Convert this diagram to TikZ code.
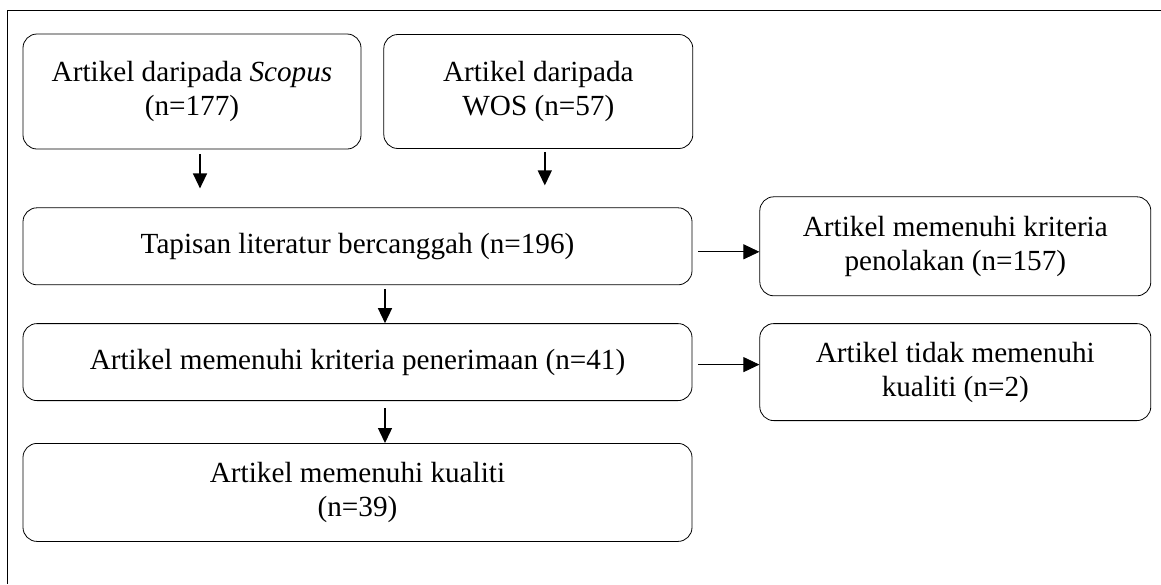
\documentclass[tikz,border=0pt]{standalone}
\usepackage{fontspec}
\setmainfont{Liberation Serif}
\usetikzlibrary{positioning,arrows.meta}
\begin{document}
\begin{tikzpicture}
[x=1pt,y=1pt,font=\fontsize{29.2}{34}\selectfont,
  box/.style={draw,line width=0.8pt,rounded corners=14pt,align=center,inner sep=0pt},
  arr/.style={line width=1.4pt,-{Triangle[length=15pt,width=14pt]}},
  sidearr/.style={line width=0.8pt,-{Triangle[length=16pt,width=15pt]}}]
\useasboundingbox (0,0) rectangle (1161,-584);
\draw[line width=0.8pt] (1161,-10) -- (7,-10) -- (7,-584);
\node[box,minimum width=338pt,minimum height=115pt] (scopus) at (192,-91.5)
  {Artikel daripada \textit{Scopus}\\(n=177)};
\node[box,minimum width=309pt,minimum height=114pt,right=22pt of scopus]
  (wos) {Artikel daripada\\WOS (n=57)};
\node[box,minimum width=669pt,minimum height=77pt,below=58pt of
  scopus.south west,anchor=north west] (tap) {Tapisan literatur bercanggah (n=196)};
\node[box,minimum width=391pt,minimum height=99pt,right=67pt of tap]
  (tolak) {Artikel memenuhi kriteria\\penolakan (n=157)};
\node[box,minimum width=669pt,minimum height=77pt,below=38pt of tap]
  (terima) {Artikel memenuhi kriteria penerimaan (n=41)};
\node[box,minimum width=391pt,minimum height=97pt,right=67pt of
  terima.north east,anchor=north west] (tidak) {Artikel tidak memenuhi\\kualiti (n=2)};
\node[box,minimum width=669pt,minimum height=98pt,below=42pt of terima]
  (kualiti) {Artikel memenuhi kualiti\\(n=39)};
\draw[arr,shorten <=5pt,shorten >=19pt] ([xshift=8pt]scopus.south) --
  ([xshift=8pt]scopus.south |- tap.north);
\draw[arr,shorten <=3pt,shorten >=22pt] ([xshift=6.5pt]wos.south) --
  ([xshift=6.5pt]wos.south |- tap.north);
\draw[arr,shorten <=4pt] ([xshift=27.5pt]tap.south) --
  ([xshift=27.5pt]tap.south |- terima.north);
\draw[arr,shorten <=7pt] ([xshift=27.5pt]terima.south) --
  ([xshift=27.5pt]terima.south |- kualiti.north);
\draw[sidearr,shorten <=6pt] ([yshift=-5.5pt]tap.east) --
  ([yshift=-5.5pt]tap.east -| tolak.west);
\draw[sidearr,shorten <=6pt] ([yshift=-2.5pt]terima.east) --
  ([yshift=-2.5pt]terima.east -| tidak.west);
\end{tikzpicture}
\end{document}
